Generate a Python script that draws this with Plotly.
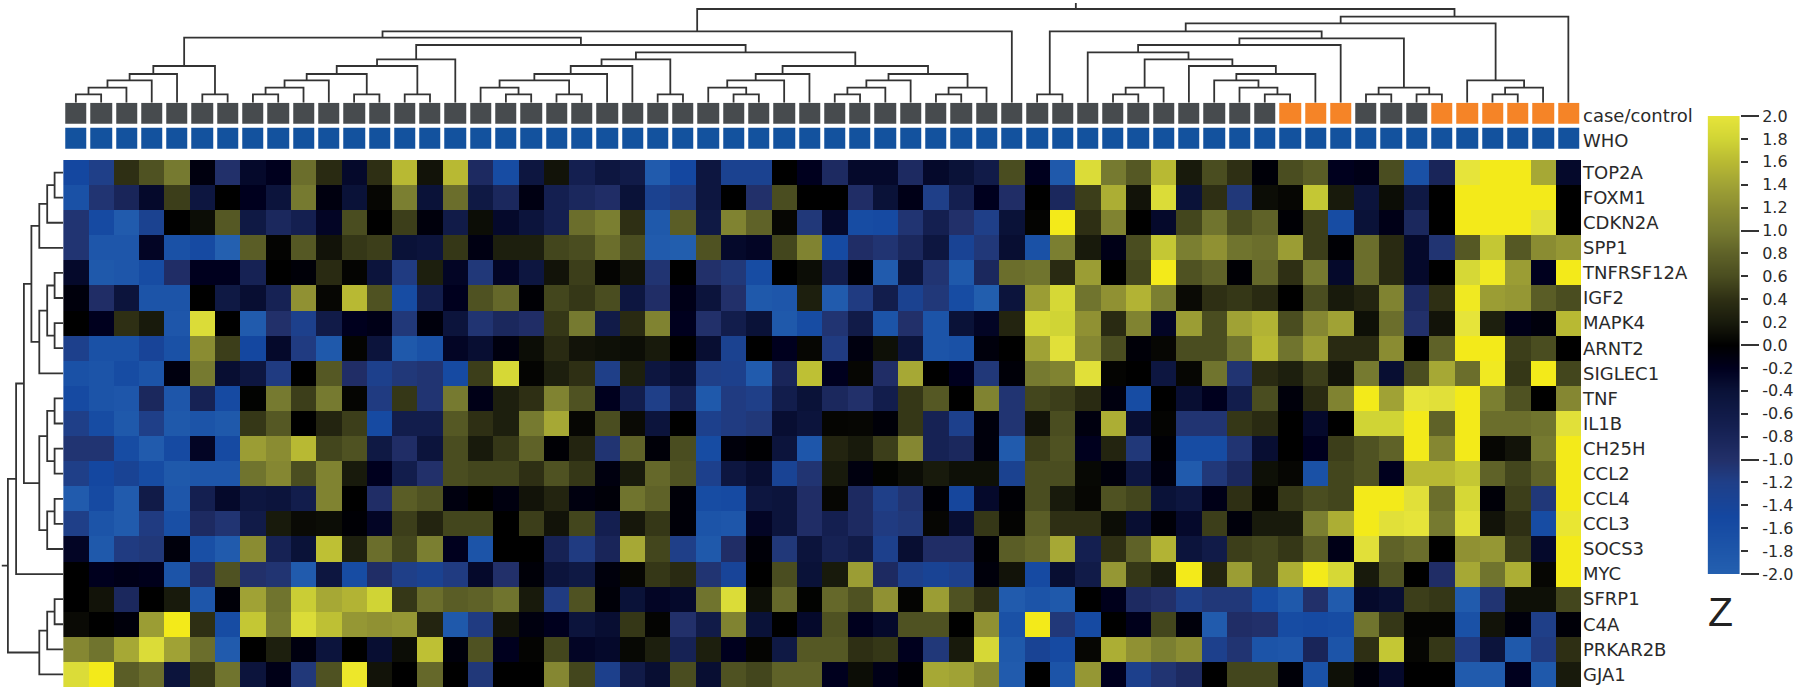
import plotly.graph_objects as go

W, H = 1800, 689
FONT = "DejaVu Sans"
INK = "#2a2a2a"

genes = ["TOP2A","FOXM1","CDKN2A","SPP1","TNFRSF12A","IGF2","MAPK4","ARNT2","SIGLEC1","TNF","IL1B",
         "CH25H","CCL2","CCL4","CCL3","SOCS3","MYC","SFRP1","C4A","PRKAR2B","GJA1"]
samples = list(range(60))

TOP2A = [-1.5,-1.2,.4,.65,1.0,-.1,-1.0,-.3,-.2,.9, .35,-.3,.4,1.6,.15,1.6,-.9,-1.6,-.5,.15,
         -.7,-.5,-.6,-1.9,-1.5,-.5,-1.3,-1.3,0,-.2, -.9,-.3,-.3,-.9,-.3,-.4,-.6,.6,-.2,-1.85,
         1.9,1.0,.7,1.6,.2,.6,.4,-.05,.6,.75, -.2,-.15,.6,-1.7,-.8,2.0,2.2,2.2,1.45,-.3]
FOXM1 = [-1.7,-1.05,-.8,-.3,.5,-.5,0,-.2,-.45,1.0, -.1,-.4,.05,1.05,-.4,.9,-.55,-.85,-.12,-.7,
         -.85,-.95,-.4,-1.3,-1.15,-.5,0,-1,.6,0, 0,-.95,-.4,-.15,-1.2,-.7,-.2,-.95,0,-.85,
         .5,1.5,.15,1.9,-.4,.4,-1.1,.1,.05,1.7, .2,-.45,.1,-.55,0,2.2,2.2,2.2,2.2,0]
CDKN2A = [-1.05,-1.55,-1.9,-1.3,0,.1,.7,-.55,-.85,-.7, -.25,.6,0,.5,-.08,-.6,.1,-.3,-.45,-.7,
          .9,1.05,.4,-1.85,.75,-.55,1.1,.8,.05,-1.1, -.3,-1.6,-1.55,-1.05,-.7,-1.0,-1.2,-.4,.03,2.2,
          .4,1.1,0,-.3,.55,.95,.6,.8,-.03,.5, -1.6,-.4,-.15,-.85,0,2.2,2.2,2.2,1.95,0]
SPP1 = [-1.05,-1.8,-1.8,-.25,-1.7,-1.55,-2,.75,.03,.7, .15,.45,.5,-.4,-.45,.45,-.12,.25,.25,.55,
        .6,.9,.6,-1.9,-1.95,.65,-.3,-.25,.55,1.1, -1.55,-.95,-1.05,-.85,-.5,-1.35,-1.1,-.35,-1.7,1.05,
        .2,-.15,.6,1.7,1.05,1.25,.95,.9,1.35,.5, -.03,.9,.35,-.3,-1.05,.7,1.7,.7,1.2,1.3]
TNFRSF12A = [-.3,-1.85,-1.8,-1.6,-.95,-.2,-.2,-.75,0,-.05, .35,.03,-.45,-1.15,.25,-.25,-1.1,-.25,-.5,.15,
             .5,.03,.15,-1.05,0,-1.0,-1.1,-1.6,0,.1, -.65,-.05,-1.9,-.45,-1.05,-1.85,-.85,.9,.95,.35,
             1.35,0,.55,2.2,.65,.8,-.03,.85,.4,1.0, -.3,.9,.35,-.3,0,1.85,2.15,1.35,-.2,2.2]
IGF2 = [-.08,-.95,-.45,-1.75,-1.75,0,-.55,-.35,-.75,1.25, .05,1.6,.65,-1.6,-.65,-.2,.65,.85,-.03,.55,
        .45,.6,-.5,-.95,-.15,-.45,-1.0,-1.85,-1.8,.25, -1.9,-1.15,-.65,-1.3,-1.1,-1.6,-1.95,-.45,1.35,1.85,
        .95,1.25,1.55,1.05,.08,.4,.45,.35,0,.6, .2,.3,1.1,-.9,.4,2.15,1.35,1.3,.75,.6]
MAPK4 = [0,-.2,.4,.2,-1.8,1.9,0,-1.9,-1,-1.25, -.6,-.2,-.15,-1.1,-.08,-.45,-1.05,-.85,-.95,.45,
         1.0,-.6,.35,1.1,-.2,-1,-.65,-.4,-1.85,-1.6, -1.05,-.6,-1.75,-1,-1.75,-.4,-.25,.3,1.85,1.8,
         1.25,.35,1.1,-.25,1.35,.6,1.4,1.55,.6,1.15, 1.4,.12,.9,-1,.15,2.0,.25,-.15,-.08,1.6]
ARNT2 = [-1.25,-1.7,-1.7,-1.4,-1.7,1.2,.5,-1.5,-.3,-1.15, -1.85,.03,-.45,-1.85,-1.7,-.25,-.35,-.1,.1,.35,
         .15,.12,.1,.2,0,-.35,-1.3,0,-.2,.05, -1.15,-.1,.12,-.45,-1.75,-1.7,-.08,0,1.4,1.95,
         1.15,.6,-.05,.05,.6,.6,.95,1.6,.95,1.35, .35,.35,1.2,0,.8,2.2,2.2,.5,.6,0]
SIGLEC1 = [-1.7,-1.75,-1.6,-1.75,-.1,1.0,-.35,-.5,-1.15,0, .7,-.95,-1.25,-1.1,-1.05,-1.55,.5,1.85,.03,.25,
           .4,-1.2,.25,-.5,-.35,-1.2,-1.25,-1.9,-.8,1.65, -.2,.05,-.95,1.45,0,-.2,-1.1,-.05,1.0,1.1,
           1.95,.03,0,-.5,.05,.95,-1.05,.35,.25,.5, .15,1.0,-.35,.6,1.45,.9,2.15,.45,2.2,.55]
TNF = [-1.55,-1.75,-1.8,-.85,-1.8,-.75,-1.55,.02,1.0,.5, 1.0,.04,-1.15,.45,-1.05,1.0,-.15,.25,.4,1.1,
       .65,-.2,-.65,-1.2,-.7,-1.85,-1.15,-1.2,-.65,-.4, -.85,-1,-.65,.45,.7,0,1.1,-1.05,.55,.5,
       .35,-.1,-1.6,0,-.35,-.2,-.65,.6,-.07,.35, 1.1,2.2,1.4,2.0,1.95,2.2,1.05,.65,0,1.15]
IL1B = [-1.2,-1.6,-1.85,-1.2,-1.85,-1.75,-1.85,.45,.7,0, .3,.5,-1.55,-.65,-.65,.7,.4,.25,1.0,1.45,
        .05,.6,.08,-.45,0,-1.25,-1.15,-1.1,-.35,-.45, .04,.05,-.05,.45,-.75,-1.25,-.08,-1.05,.15,.6,
        -.1,1.5,-.35,.03,-1.05,-1.05,.45,.35,0,-.3, 0,1.8,1.8,2.2,.8,2.2,.9,.9,.95,1.95]
CH25H = [-1.05,-1.05,-1.6,-1.9,-1.55,-.25,-1.55,1.35,1.2,1.6, .55,.65,-.55,-.95,-.45,.6,.2,.45,.8,-.03,
         .3,-1.05,.8,-.05,.6,-1.6,-.07,-.02,-.45,-1.8, .3,.2,.5,1.15,-.75,-.85,-.08,-1.9,.5,.65,
         -.2,.3,-1.1,-.03,-1.6,-1.6,-1.05,-.35,0,-.2, .5,.65,.8,2.2,1.15,2.2,.05,.15,1.0,2.2]
CCL2 = [-1.2,-1.5,-1.35,-1.6,-1.85,-1.8,-1.8,.95,1.15,.6, 1.1,.2,-.2,-.65,-1.0,.6,.55,.55,.4,.65,
        .45,-.1,.2,.85,.65,-1.25,-.5,-.35,-1.35,-1.05, .2,-.1,.02,.1,.2,.12,.12,-1.3,.6,.6,
        .06,-.07,-.5,-.1,-1.9,-1.1,-.85,.12,.05,-1.7, .55,.65,-.2,1.6,1.6,1.7,.8,.55,.8,2.2]
CCL4 = [-1.9,-1.55,-1.9,-.6,-1.8,-.7,-.3,-.5,-.45,-.65, 1.1,0,-.95,.75,.65,-.1,0,-.1,.15,.3,
        -.1,-.05,.95,.8,-.05,-1.6,-1.55,-.5,-.45,-.95, .05,-.9,-1.2,-1.05,-.03,-1.45,-.3,-.03,.6,.2,
        .05,.65,.55,-.4,-.5,-.15,.4,.03,.45,.6, .55,2.2,2.2,1.95,.9,1.85,-.05,.5,-1.1,2.2]
CCL3 = [-1.2,-1.75,-1.9,-1.15,-1.65,-.9,-1.05,-.6,.2,.08, .1,-.03,-.25,.5,.3,.55,.55,0,.5,.15,
        .55,-.7,.18,.45,-.05,-1.75,-1.8,-.25,-.45,-.95, -.7,-.9,-1.15,-1.1,.05,-.35,.45,.03,.75,.4,
        .4,.1,-.35,-.05,-.3,.5,-.07,.2,.2,1.05, 1.5,2.2,1.95,2.0,1.0,1.95,.15,.4,-1.6,2.05]
SOCS3 = [-.25,-1.85,-1.15,-1.1,-.08,-1.65,-1.9,1.2,-.75,-.4, 1.65,.25,.9,.55,1.05,-.2,-1.75,0,0,-.75,
         -1.15,-.8,1.45,.55,-1.2,-1.85,-.95,-.05,-1.1,-.45, -.75,-.6,-1.25,-.35,-.95,-.95,-.03,.75,.85,1.45,
         -.7,.4,.8,1.55,-.45,-.6,.5,.55,.45,.75, -.15,1.95,.8,.9,0,1.25,1.3,.5,-.3,2.2]
MYC = [0,-.2,-.15,-.18,-1.75,-.95,.65,-1.0,-1.05,-1.9, -.5,-1.6,-.95,-1.2,-1.3,-1.15,-.3,-1,-.05,-.45,
       -.55,-.08,.05,.45,.35,-1.05,-1.4,0,.6,-.4, .2,1.35,-.9,-1.25,-1.35,-1.25,-.07,.15,-1.55,-.35,
       -.6,1.3,.45,.25,2.2,.3,1.35,.55,1.5,2.2, 1.85,.2,.65,0,-.95,1.45,.95,1.5,.05,2.2]
SFRP1 = [0,.15,-.85,0,.2,-1.8,-.05,1.4,.95,1.75, 1.45,1.55,1.8,.45,.9,.75,.8,.95,.2,-1.15,
         .65,-.05,-.4,-.25,-.3,.95,1.9,.12,.85,.02, .85,.65,1.25,.03,1.35,.65,.4,-1.9,-1.75,-1.85,
         0,-.18,-.9,-1,-1.2,-1.1,-1.1,-1.6,-1.85,-1, -1.9,-.3,-.35,.5,.45,-1.9,-1.05,.12,.12,.55]
C4A = [.08,0,-.07,1.35,2.2,.4,-1.6,1.7,1.0,1.9, 1.65,1.3,1.25,1.3,.3,-1.85,-1.15,.15,-.1,-.2,
       -.45,-.35,.45,.03,-1,-.6,1.1,-.4,0,-.3, .65,-.2,-.3,.65,.65,0,1.25,-1.7,2.2,-1.1,
       -1.55,0,-.18,.55,-.07,-1.9,-.95,-1,-1.6,-1.55, -1.6,.95,.45,.03,.03,-1.7,.15,-.07,-1.2,-.05]
PRKAR2B = [1.15,.95,1.45,1.9,1.4,.9,-1.9,0,.25,-.1, -.45,0,-.35,.1,1.65,-.07,.65,-.2,.03,.55,
           -.25,-.3,.06,.25,-.75,.25,-.2,.03,-.55,.7, .7,.4,.45,-.2,-1.1,.2,1.85,-1.85,-1.35,-1.55,
           .05,1.5,1.25,1.05,1.2,-1.25,-1.05,-1.75,-1.8,-.8, -1.75,.4,1.7,.05,.45,-1.15,-.45,-1.85,-1.15,.4]
GJA1 = [1.9,2.2,.75,.9,-.45,.45,.95,-.45,-.15,-1.1, .65,2.1,.15,0,.85,0,-1.1,0,0,1.15,
        .55,-1.25,-.6,-.35,.6,-.35,.65,.55,.8,.8, -.2,.1,-.15,-.03,1.45,1.4,1.15,-1.9,0,-1.75,
        1.3,-.2,-1.25,-1.05,-.9,0,.55,.55,-.05,-1.7, .12,-.05,-.3,0,0,-1.9,-1.9,-.2,-1.85,.2]

expression = [TOP2A, FOXM1, CDKN2A, SPP1, TNFRSF12A, IGF2, MAPK4, ARNT2, SIGLEC1, TNF, IL1B,
              CH25H, CCL2, CCL4, CCL3, SOCS3, MYC, SFRP1, C4A, PRKAR2B, GJA1]
assert all(len(r) == 60 for r in expression)

# 0 = control (grey), 1 = case (orange), 2 = WHO (blue)
case_control = [0] * 48 + [1, 1, 1] + [0, 0, 0] + [1] * 6
who = [2] * 60
annotation_names = ["case/control", "WHO"]

# sample tree: (merge height, left, right), leaves are column numbers
col_a = (36.7, (28.7, (22.4, (15, (8.4, 0, 1), 2), 3), 4), (8.4, 5, 6))
col_b = (43.4, (36.7, (28.7, (22.4, (15, (8.4, 7, 8), 9), 10), (8.4, 11, 12)), (8.4, 13, 14)), 15)
col_d = (43.4, (36.7, (28.7, (22.4, (15, 16, (8.4, 17, 18)), (8.4, 19, 20)), 21), 22), (8.4, 23, 24))
col_e = (36.7, (28.7, (22.4, (15, 25, (8.4, 26, 27)), 28), 29),
         (28.7, (22.4, (15, (8.4, 30, 31), 32), 33), (15, (8.4, 34, 35), 36)))
col_left = (71.4, (65, col_a, (57.7, col_b, (50.4, col_d, col_e))), 37)
col_g = (43.4, (15, (8.4, 41, 42), 43), (36.7, 44, (28.7, (22.4, 45, (15, 46, (8.4, 47, 48))), 49)))
col_j = (64.4, (57.7, (50.4, 40, col_g), 50), (15, (8.4, 51, 52), (8.4, 53, 54)))
col_m = (71.4, (8.4, 38, 39), col_j)
col_n = (22.4, 55, (15, (8.4, 56, 57), 58))
col_tree = (93.7, col_left, (86, (79.4, col_m, col_n), 59))
col_root_top = 99.7

# gene tree
g1 = (23.9, (16, (8.6, 0, 1), 2), 3)
g2 = (23.9, (16, (8.6, 4, 5), (8.6, 6, 7)), 8)
g4 = (23.9, (16, (8.6, 9, 10), (8.6, 11, 12)), (16, (8.6, 13, 14), 15))
g6 = (47.1, (39.3, (31.8, g1, g2), g4), 16)
g7 = (23.9, (16, (8.6, 17, 18), 19), 20)
gene_tree = (55.3, g6, g7)
gene_root_top = 61.4

colorbar_ticks = [-2.0,-1.8,-1.6,-1.4,-1.2,-1.0,-.8,-.6,-.4,-.2,0.0,.2,.4,.6,.8,1.0,1.2,1.4,1.6,1.8,2.0]
colorbar_major = [-2.0,-1.0,0.0,1.0,2.0]

ZMIN, ZMAX = -2.05, 2.2
color_stops = [(-2.05,"#2662b2"),(-2.0,"#2460b0"),(-1.5,"#1447a0"),(-1.2,"#1f3f88"),(-1.0,"#22306a"),
               (-.7,"#141f50"),(-.4,"#0a1238"),(-.2,"#00001e"),(0,"#000000"),(.2,"#181a0c"),(.4,"#2e2f14"),
               (.6,"#4a4d20"),(.8,"#5f6228"),(1.0,"#767a30"),(1.2,"#8a8c32"),(1.4,"#a0a235"),(1.6,"#b8b933"),
               (1.8,"#d0d435"),(2.0,"#e6e43a"),(2.2,"#f3ea1a")]
colorscale = [[(v - ZMIN) / (ZMAX - ZMIN), c] for v, c in color_stops]


def segments(node):
    """Return (position, height, xs, ys) of a tree, positions from leaf numbers."""
    if isinstance(node, int):
        return node, 0, [], []
    h, left, right = node
    p1, h1, a1, b1 = segments(left)
    p2, h2, a2, b2 = segments(right)
    return ((p1 + p2) / 2, h, a1 + a2 + [p1, p1, p2, p2, None], b1 + b2 + [h1, h, h, h2, None])


def px_x(a, b):
    return [a / W, b / W]


def px_y(top, bottom):
    return [(H - bottom) / H, (H - top) / H]


HX0, HX1 = 63.2, 1581
HY0, HY1 = 160, 687

fig = go.Figure()

# main matrix
fig.add_trace(go.Heatmap(z=expression, x=samples, y=genes, colorscale=colorscale, zmin=ZMIN, zmax=ZMAX,
                         showscale=False, xaxis="x", yaxis="y"))
# annotation strips
fig.add_trace(go.Heatmap(z=[case_control, who], x=samples, y=annotation_names, xgap=4, ygap=4,
                         colorscale=[[0, "#474b4e"], [.5, "#f58427"], [1, "#13529e"]], zmin=0, zmax=2,
                         showscale=False, xaxis="x2", yaxis="y2"))
# sample dendrogram
pos, top, xs, ys = segments(col_tree)
fig.add_trace(go.Scatter(x=xs + [pos, pos], y=ys + [top, col_root_top], mode="lines",
                         line=dict(color="#333333", width=1.8), hoverinfo="skip", xaxis="x3", yaxis="y3"))
# gene dendrogram
pos, top, ys2, xs2 = segments(gene_tree)
fig.add_trace(go.Scatter(x=xs2 + [top, gene_root_top], y=ys2 + [pos, pos], mode="lines",
                         line=dict(color="#333333", width=1.8), hoverinfo="skip", xaxis="x4", yaxis="y4"))
# colour bar
fig.add_trace(go.Heatmap(z=[[v] for v in colorbar_ticks], x=[0], y=colorbar_ticks, colorscale=colorscale,
                         zmin=ZMIN, zmax=ZMAX, zsmooth="best", showscale=False, xaxis="x5", yaxis="y5"))
fig.add_trace(go.Scatter(x=[0] * len(colorbar_major), y=colorbar_major, mode="lines", line=dict(width=0),
                         hoverinfo="skip", xaxis="x5", yaxis="y6"))

hidden = dict(showticklabels=False, ticks="", showgrid=False, zeroline=False, showline=False, automargin=False)
label_font = dict(family=FONT, size=18, color=INK)
tick_font = dict(family=FONT, size=16, color=INK)

fig.update_layout(
    template="none",
    width=W, height=H, autosize=False, margin=dict(l=0, r=0, t=0, b=0, pad=0),
    paper_bgcolor="white", plot_bgcolor="white", showlegend=False,
    xaxis=dict(domain=px_x(HX0, HX1), range=[-.5, 59.5], anchor="y", **hidden),
    yaxis=dict(domain=px_y(HY0, HY1), autorange=False, range=[20.5, -.5], side="right", anchor="x", type="category",
               tickmode="array", tickvals=genes, ticktext=genes, showgrid=False, zeroline=False, automargin=False,
               tickfont=label_font, ticks="", ticklen=0, ticklabelstandoff=1),
    xaxis2=dict(domain=px_x(HX0, HX1), range=[-.5, 59.5], anchor="y2", **hidden),
    yaxis2=dict(domain=px_y(100.7, 150.3), autorange=False, range=[1.5, -.5], side="right", anchor="x2", type="category",
                tickmode="array", tickvals=annotation_names, ticktext=annotation_names, showgrid=False, automargin=False,
                zeroline=False, tickfont=label_font, ticks="", ticklen=0, ticklabelstandoff=1, ticklabelshift=-3),
    xaxis3=dict(domain=px_x(HX0, HX1), range=[-.5, 59.5], anchor="y3", **hidden),
    yaxis3=dict(domain=px_y(0, 102.7), range=[0, 102.7], anchor="x3", **hidden),
    xaxis4=dict(domain=px_x(0, HX0), range=[63.2, 0], anchor="y4", **hidden),
    yaxis4=dict(domain=px_y(HY0, HY1), range=[20.5, -.5], anchor="x4", **hidden),
    xaxis5=dict(domain=px_x(1707.6, 1740), range=[-.5, .5], anchor="y5", **hidden),
    yaxis5=dict(domain=px_y(116, 574), range=[-2, 2], side="right", anchor="x5", tickmode="array", automargin=False,
                tickvals=colorbar_ticks, ticktext=[f"{v:.1f}" for v in colorbar_ticks], ticks="outside", ticklen=7,
                tickwidth=1.5, tickcolor="#333333", showgrid=False, zeroline=False, tickfont=tick_font,
                ticklabelstandoff=11),
    yaxis6=dict(range=[-2, 2], side="right", anchor="x5", overlaying="y5", tickmode="array", tickvals=colorbar_major,
                showticklabels=False, ticks="outside", ticklen=18, tickwidth=1.5, tickcolor="#333333", automargin=False,
                showgrid=False, zeroline=False),
    annotations=[dict(text="Z", xref="paper", yref="paper", x=1720 / W, y=(H - 612) / H, showarrow=False,
                      xanchor="center", yanchor="middle",
                      font=dict(family="Liberation Sans", size=41, color="#222222"))],
)

fig.write_html("out.html", config=dict(displayModeBar=False),
               post_script="document.documentElement.style.margin='0';document.body.style.margin='0';document.body.style.overflow='hidden';")
